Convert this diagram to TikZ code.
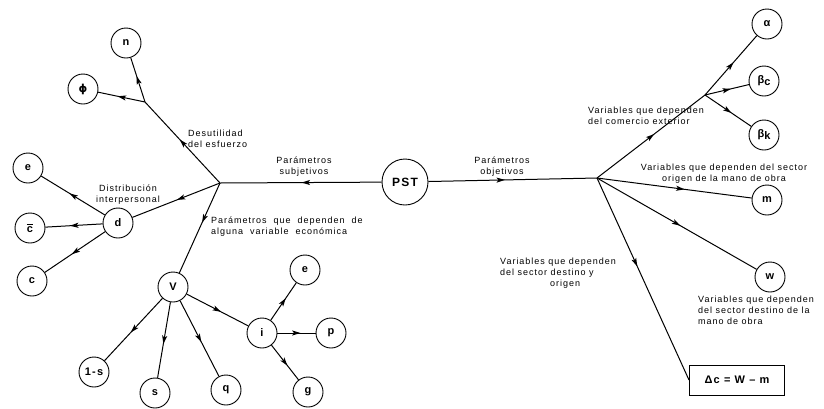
\documentclass[tikz,border=0pt]{standalone}
\usepackage{amsmath}
\usepackage{fontspec}
\setmainfont{Liberation Sans}[LetterSpace=11]
\newfontfamily\dejavu{DejaVu Sans}
\usetikzlibrary{arrows.meta,decorations.markings}
\tikzset{
  vnode/.style={circle,draw,line width=0.9pt,minimum size=30pt,inner sep=0pt,font=\fontsize{11}{12}\selectfont\bfseries},
  edge/.style={line width=1pt},
  midarr/.style={edge,postaction={decorate},decoration={markings,mark=at position #1 with {\fill[black] (-4.5pt,-2.6pt) -- (4pt,0pt) -- (-4.5pt,2.6pt) -- (-2.5pt,0pt) -- cycle;}}},
  midarr/.default=0.5,
  lbl/.style={font=\fontsize{9}{11}\selectfont,inner sep=0pt},
}
\begin{document}
\begin{tikzpicture}[x=1pt,y=-1pt]
\useasboundingbox (0,0) rectangle (824,408);
% centre
\node[vnode,minimum size=46pt,font=\fontsize{12}{13}\selectfont\bfseries] (pst) at (405,182) {PST};
\coordinate (hubL) at (220,183);
\coordinate (hubR) at (597,178);
\coordinate (jD) at (145,102);
\coordinate (jR) at (705,95);
% left nodes
\node[vnode] (n) at (126,43) {n};
\node[vnode] (phi) at (83,89) {{\dejavu\bfseries ϕ}};
\node[vnode] (e1) at (28,168) {e};
\node[vnode] (d) at (118,223) {d};
\node[vnode] (cbar) at (30,228) {$\overline{\mbox{c}}$};
\node[vnode] (c) at (32,281) {c};
\node[vnode] (V) at (173,287) {V};
\node[vnode] (onems) at (94,372) {1-s};
\node[vnode] (s) at (155,393) {s};
\node[vnode] (q) at (226,390) {q};
\node[vnode] (i) at (262,333) {i};
\node[vnode] (e2) at (305,270) {e};
\node[vnode] (p) at (331,333) {p};
\node[vnode] (g) at (308,392) {g};
% right nodes
\node[vnode] (alpha) at (767,24) {α};
\node[vnode] (bc) at (764,81) {β\raisebox{-2pt}{c}};
\node[vnode] (bk) at (764,135) {β\raisebox{-2pt}{k}};
\node[vnode] (m) at (767,200) {m};
\node[vnode] (w) at (770,277) {w};
\node[draw,line width=1pt,minimum width=95pt,minimum height=30pt,font=\fontsize{11}{12}\selectfont\bfseries] (box) at (737,380) {Δc = W -- m};
% edges
\draw[midarr=0.47] (pst) -- (hubL);
\draw[midarr=0.43] (pst) -- (hubR);
\draw[midarr] (hubL) -- (jD);
\draw[midarr] (jD) -- (n);
\draw[midarr] (jD) -- (phi);
\draw[midarr=0.45] (hubL) -- (d);
\draw[midarr] (d) -- (e1);
\draw[midarr] (d) -- (cbar);
\draw[midarr] (d) -- (c);
\draw[midarr=0.4] (hubL) -- (V);
\draw[midarr] (V) -- (onems);
\draw[midarr] (V) -- (s);
\draw[midarr] (V) -- (q);
\draw[midarr] (V) -- (i);
\draw[midarr] (i) -- (e2);
\draw[midarr] (i) -- (p);
\draw[midarr] (i) -- (g);
\draw[midarr] (hubR) -- (jR);
\draw[midarr] (jR) -- (alpha);
\draw[midarr] (jR) -- (bc);
\draw[midarr] (jR) -- (bk);
\draw[midarr=0.54] (hubR) -- (m);
\draw[midarr] (hubR) -- (w);
\draw[midarr=0.42] (hubR) -- (box.west);
% labels
\node[lbl,anchor=west,align=left] (l1) at (188,139) {Desutilidad\\del esfuerzo};
\node[lbl,align=center] (l2) at (128,195) {Distribución\\interpersonal};
\node[lbl,align=center] (l3) at (304,167) {Parámetros\\subjetivos};
\node[lbl,align=center] (l4) at (502,167) {Parámetros\\objetivos};
\node[lbl,anchor=west,align=left] (l5) at (211,227) {Parámetros \ que \ dependen \ de\\alguna \ variable \ económica};
\node[lbl,anchor=west,align=left] (l6) at (588,116) {Variables que dependen\\del comercio exterior};
\node[lbl,align=center] (l7) at (724,174) {Variables que dependen del sector\\origen de la mano de obra};
\node[lbl,anchor=west,align=left] (l8) at (500,273) {Variables que dependen\\del sector destino y\\\hspace*{50pt}origen};
\node[lbl,anchor=west,align=left] (l9) at (698,310) {Variables que dependen\\del sector destino de la\\mano de obra};
\end{tikzpicture}
\end{document}
